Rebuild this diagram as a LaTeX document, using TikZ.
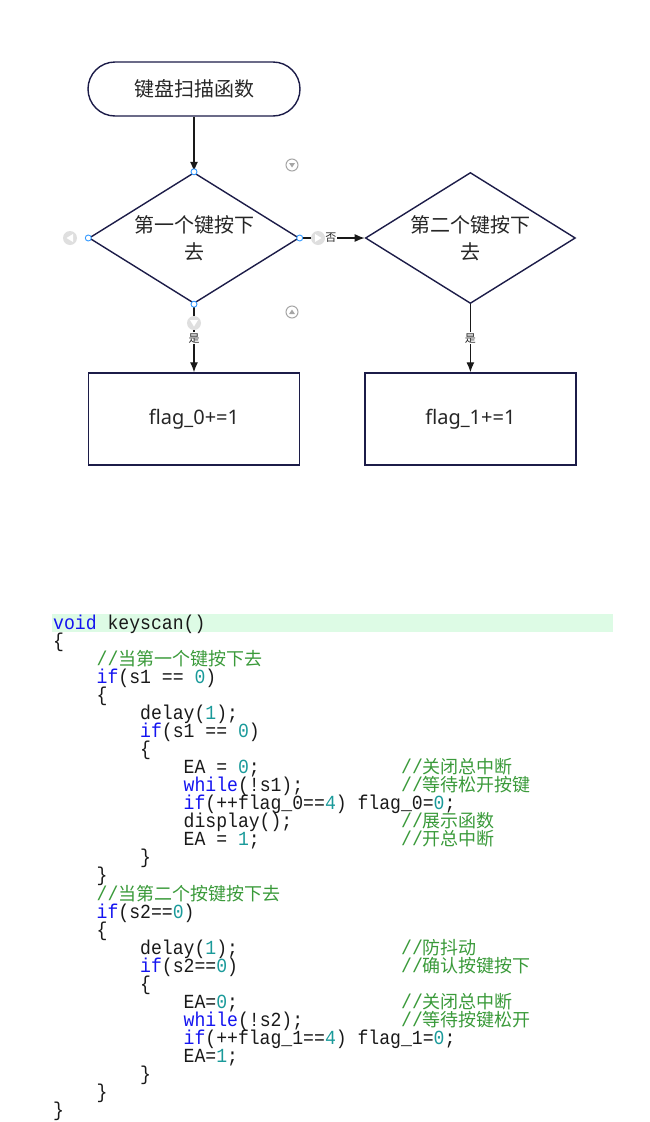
\documentclass[tikz,border=0pt]{standalone}
\usepackage{fontspec}
\setmainfont{Noto Sans CJK SC}
\setmonofont[FakeStretch=0.906]{Liberation Mono}
\newfontfamily\cjk{Noto Sans CJK SC}
\newfontfamily\lat{Noto Sans}
\usetikzlibrary{shapes.geometric, positioning, arrows.meta}
\definecolor{navy}{HTML}{1C1C48}
\definecolor{kw}{HTML}{1414F0}
\definecolor{num}{HTML}{1A9A9A}
\definecolor{cmt}{HTML}{3A9A3A}
\definecolor{hl}{HTML}{DDFBE5}
\definecolor{handle}{HTML}{3399FF}
\newcommand\kw[1]{\textcolor{kw}{#1}}
\newcommand\nm[1]{\textcolor{num}{#1}}
\newcommand\cm[1]{\textcolor{cmt}{//{\cjk\fontsize{18}{18}\selectfont #1}}}
\tikzset{x=1pt, y=-1pt, >={Latex[length=10pt, width=8pt]},
  term/.style={draw=navy, line width=1.4pt, rounded corners=27pt, minimum width=212pt,
    minimum height=54pt, font=\fontsize{20}{27}\selectfont, text=black!85},
  decision/.style={diamond, aspect=1.6, draw=navy, line width=1.4pt, minimum width=210pt,
    minimum height=131pt, inner sep=0pt, align=center, font=\fontsize{20}{27}\selectfont, text=black!85},
  process/.style={rectangle, draw=navy, line width=1.4pt, minimum width=211pt,
    minimum height=92pt, font=\lat\fontsize{20}{27}\selectfont, text=black!85},
  flow/.style={->, line width=1.3pt, black!90},
  lbl/.style={fill=white, inner sep=1pt, font=\fontsize{11}{12}\selectfont, text=black!85},
  code/.style={anchor=base west, inner sep=0pt, font=\ttfamily\fontsize{20}{20}\selectfont, text=black!90},
  dot/.style={draw=handle, fill=white, line width=0.9pt}
}

\begin{document}
\begin{tikzpicture}
  \useasboundingbox (0,0) rectangle (650,1122);

  % flow chart
  \node[term] (start) at (194,89) {键盘扫描函数};
  \node[decision] (dec1) at (194,238) {第一个键按下\\去};
  \node[decision, right=65pt of dec1] (dec2) {第二个键按下\\去};
  \node[process] (box1) at (194,419) {flag\_0+=1};
  \node[process] (box2) at (dec2 |- box1) {flag\_1+=1};

  \draw[flow] (start) -- (dec1);
  \draw[flow] (dec1) -- node[lbl, pos=0.48] {否} (dec2);
  \draw[flow] (dec1) -- node[lbl] {是} (box1);
  \draw[flow] (dec2) -- node[lbl] {是} (box2);

  % editor handles
  \foreach \a in {north, south, east, west}
    \draw[dot] (dec1.\a) circle (3pt);
  \fill[gray!25] (70,238) circle (7pt);
  \fill[white] (73,234) -- (73,242) -- (66.5,238) -- cycle;
  \fill[gray!25] (318,238) circle (7pt);
  \fill[white] (315,234) -- (315,242) -- (321.5,238) -- cycle;
  \fill[gray!25] (194,323) circle (7pt);
  \fill[white] (190,320) -- (198,320) -- (194,326.5) -- cycle;
  \draw[gray!70, line width=1pt] (292,165) circle (6pt);
  \fill[gray!70] (289,163) -- (295,163) -- (292,167.5) -- cycle;
  \draw[gray!70, line width=1pt] (292,312) circle (6pt);
  \fill[gray!70] (289,314) -- (295,314) -- (292,309.5) -- cycle;

  % source code
  \fill[hl] (52,614) rectangle (613,632);
  \foreach \n/\c/\t in {
      1/0/{\kw{void} keyscan()},
      2/0/{\{},
      3/4/{\cm{当第一个键按下去}},
      4/4/{\kw{if}(s1 == \nm{0})},
      5/4/{\{},
      6/8/{delay(\nm{1});},
      7/8/{\kw{if}(s1 == \nm{0})},
      8/8/{\{},
      9/12/{EA = \nm{0};},
      10/12/{\kw{while}(!s1);},
      11/12/{\kw{if}(++flag\_0==\nm{4}) flag\_0=\nm{0};},
      12/12/{display();},
      13/12/{EA = \nm{1};},
      14/8/{\}},
      15/4/{\}},
      16/4/{\cm{当第二个按键按下去}},
      17/4/{\kw{if}(s2==\nm{0})},
      18/4/{\{},
      19/8/{delay(\nm{1});},
      20/8/{\kw{if}(s2==\nm{0})},
      21/8/{\{},
      22/12/{EA=\nm{0};},
      23/12/{\kw{while}(!s2);},
      24/12/{\kw{if}(++flag\_1==\nm{4}) flag\_1=\nm{0};},
      25/12/{EA=\nm{1};},
      26/8/{\}},
      27/4/{\}},
      28/0/{\}}}
    \node[code] (l\n) at ({53+10.87*\c}, {629+18.07*(\n-1)}) {\t};
  \foreach \n/\t in {9/关闭总中断, 10/等待松开按键, 12/展示函数, 13/开总中断,
      19/防抖动, 20/确认按键按下, 22/关闭总中断, 23/等待按键松开}
    \node[code] (c\n) at (401, {629+18.07*(\n-1)}) {\cm{\t}};
\end{tikzpicture}
\end{document}
